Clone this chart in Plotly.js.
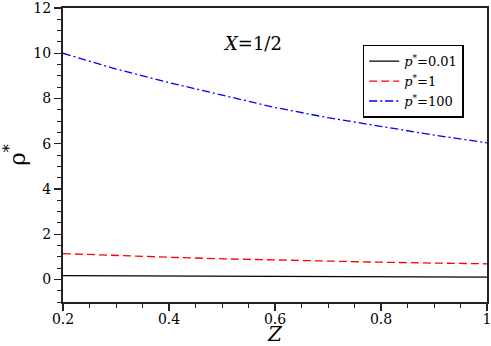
<!DOCTYPE html>
<html>
<head>
<meta charset="utf-8">
<script src="https://cdn.plot.ly/plotly-3.0.1.min.js"></script>
<style>
  body { margin: 0; background: #fff; }
  #plot { width: 491px; height: 346px; }
</style>
</head>
<body>
<div id="plot"></div>
<script>
const zValues = [0.2, 0.3, 0.4, 0.5, 0.6, 0.7, 0.8, 0.9, 1.0];
const rhoLow = [0.17, 0.16, 0.15, 0.14, 0.13, 0.12, 0.11, 0.105, 0.1];
const rhoMid = [1.14, 1.05, 0.98, 0.91, 0.85, 0.80, 0.76, 0.72, 0.69];
const rhoHigh = [10.0, 9.3, 8.7, 8.15, 7.6, 7.15, 6.75, 6.38, 6.04];
const seriesNames = ['<i>p</i><sup>*</sup>=0.01', '<i>p</i><sup>*</sup>=1', '<i>p</i><sup>*</sup>=100'];

// Liberation Serif did not resolve here, DejaVu Serif does
const serif = 'DejaVu Serif';

const data = [
    {
        x: zValues, y: rhoLow, mode: 'lines', name: seriesNames[0],
        line: { color: 'black', width: 1.3 }
    },
    {
        x: zValues, y: rhoMid, mode: 'lines', name: seriesNames[1],
        line: { color: 'red', width: 1.3, dash: '8px,4px' }
    },
    {
        x: zValues, y: rhoHigh, mode: 'lines', name: seriesNames[2],
        line: { color: 'blue', width: 1.3, dash: '8px,3px,2px,3px' }
    }
];

const layout = {
    width: 491,
    height: 346,
    margin: { l: 63, r: 4, t: 8, b: 44 },
    paper_bgcolor: 'white',
    plot_bgcolor: 'white',
    font: { family: serif, size: 14, color: 'black' },
    showlegend: true,
    legend: {
        x: 0.945, y: 0.875, xanchor: 'right', yanchor: 'top',
        bgcolor: 'white', bordercolor: 'black', borderwidth: 1.5,
        font: { family: serif, size: 13, color: 'black' },
        tracegroupgap: 0
    },
    xaxis: {
        range: [0.2, 1],
        dtick: 0.2,
        tick0: 0.2,
        showgrid: false,
        zeroline: false,
        showline: true,
        linecolor: '#222',
        linewidth: 2,
        mirror: true,
        ticks: 'outside',
        ticklen: 7,
        tickwidth: 1.2,
        tickcolor: '#222',
        ticklabeloverflow: 'allow',
        ticklabelstandoff: -4,
        minor: { dtick: 0.05, ticks: 'outside', ticklen: 4, tickcolor: '#222', tickwidth: 1 },
        tickfont: { family: serif, size: 14, color: 'black' },
        title: { text: '<i>Z</i>', font: { family: serif, size: 20, color: 'black' }, standoff: 6 }
    },
    yaxis: {
        range: [-1, 12],
        tickvals: [0, 2, 4, 6, 8, 10, 12],
        showgrid: false,
        zeroline: false,
        showline: true,
        linecolor: '#222',
        linewidth: 2,
        mirror: true,
        ticks: 'outside',
        ticklen: 7,
        tickwidth: 1.2,
        tickcolor: '#222',
        ticklabeloverflow: 'allow',
        minor: { dtick: 0.5, tick0: 0, ticks: 'outside', ticklen: 4, tickcolor: '#222', tickwidth: 1 },
        tickfont: { family: serif, size: 14, color: 'black' },
        title: { text: 'ρ<sup>*</sup>', font: { family: serif, size: 23, color: 'black' }, standoff: 10 }
    },
    annotations: [
        {
            text: '<i>X</i>=1/2',
            xref: 'paper', yref: 'paper',
            x: 0.446, y: 0.879,
            xanchor: 'center', yanchor: 'middle',
            showarrow: false,
            font: { family: serif, size: 18, color: 'black' }
        }
    ]
};

Plotly.newPlot('plot', data, layout, { displayModeBar: false, staticPlot: true });
</script>
</body>
</html>
